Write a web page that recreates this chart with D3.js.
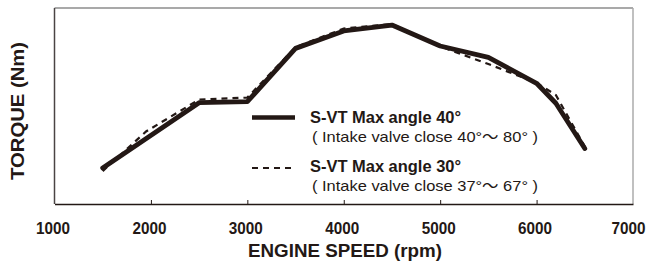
<!DOCTYPE html>
<html>
<head>
<meta charset="utf-8">
<script src="https://cdn.jsdelivr.net/npm/d3@7"></script>
<style>
  html, body { margin: 0; padding: 0; background: #fff; }
  svg { display: block; }
  text { font-family: "Liberation Sans", Arial, "Noto Sans CJK JP", sans-serif; fill: #231815; }
</style>
</head>
<body>
<svg id="chart" width="650" height="270"></svg>
<script>
// ---- data ----
const rpm40 = [1500, 2500, 3000, 3500, 4000, 4500, 5000, 5500, 6000, 6200, 6500];
const torque40 = [18.4, 51.7, 52.2, 79.4, 88.3, 91.3, 80.6, 74.8, 61.6, 51.4, 28.3];
const rpm30 = [1500, 1950, 2500, 3000, 3500, 4000, 4500, 5000, 5500, 6000, 6200, 6500];
const torque30 = [16.8, 37.0, 53.3, 54.3, 80.0, 89.5, 91.8, 80.4, 71.4, 61.8, 55.6, 29.3];
const xTicks = [1000, 2000, 3000, 4000, 5000, 6000, 7000];
const xLabel = "ENGINE SPEED (rpm)";
const yLabel = "TORQUE (Nm)";
const legendTitles = ["S-VT Max angle 40°", "S-VT Max angle 30°"];
const legendNotes = ["( Intake valve close 40°～ 80° )", "( Intake valve close 37°～ 67° )"];

const ink = "#231815";
const svg = d3.select("#chart");
const x = d3.scaleLinear().domain([1000, 7000]).range([54.5, 633]);
const y = d3.scaleLinear().domain([0, 100]).range([204, 8]);

// frame
svg.append("line").attr("x1", 54.5).attr("x2", 633).attr("y1", 8).attr("y2", 8)
  .attr("stroke", "#8c8c8c").attr("stroke-width", 1.5);
svg.append("line").attr("x1", 633).attr("x2", 633).attr("y1", 8).attr("y2", 204)
  .attr("stroke", "#ababab").attr("stroke-width", 1.5);
svg.append("line").attr("x1", 54.5).attr("x2", 54.5).attr("y1", 8).attr("y2", 204)
  .attr("stroke", "#4a4444").attr("stroke-width", 1.5);

// x axis
const xAxis = d3.axisBottom(x).tickValues(xTicks).tickSizeInner(-4).tickSizeOuter(0).tickFormat(d3.format("d"));
const gx = svg.append("g").attr("transform", "translate(0,204)").call(xAxis);
gx.select(".domain").attr("stroke", ink).attr("stroke-width", 1.5);
gx.selectAll(".tick line").attr("stroke", ink).attr("stroke-width", 1)
  .filter(d => d === 1000 || d === 7000).remove();
gx.selectAll(".tick text").attr("y", 30).attr("dy", 0)
  .attr("font-size", 17).attr("font-weight", "bold").attr("fill", ink)
  .style("font-family", '"Liberation Sans", Arial, sans-serif')
  .attr("textLength", 34).attr("lengthAdjust", "spacingAndGlyphs")
  .attr("dx", d => d === 7000 ? -5 : -2);

// axis titles
svg.append("text").attr("x", 345).attr("y", 257).attr("text-anchor", "middle")
  .attr("font-size", 18).attr("font-weight", "bold")
  .attr("textLength", 194).attr("lengthAdjust", "spacingAndGlyphs").text(xLabel);
svg.append("text").attr("transform", "translate(24,111) rotate(-90)").attr("text-anchor", "middle")
  .attr("font-size", 18).attr("font-weight", "bold")
  .attr("textLength", 138).attr("lengthAdjust", "spacingAndGlyphs").text(yLabel);

// lines
const line = d3.line().x(d => x(d[0])).y(d => y(d[1]));
const pts30 = rpm30.map((r, i) => [r, torque30[i]]);
const pts40 = rpm40.map((r, i) => [r, torque40[i]]);
svg.append("path").attr("d", line(pts30)).attr("fill", "none")
  .attr("stroke", ink).attr("stroke-width", 2.2).attr("stroke-dasharray", "6,5");
svg.append("path").attr("d", line(pts40)).attr("fill", "none")
  .attr("stroke", ink).attr("stroke-width", 4.8).attr("stroke-linejoin", "round").attr("stroke-linecap", "round");

// legend
const lg = svg.append("g");
lg.append("line").attr("x1", 252).attr("x2", 295).attr("y1", 117.5).attr("y2", 117.5)
  .attr("stroke", ink).attr("stroke-width", 4.5);
lg.append("line").attr("x1", 252).attr("x2", 294).attr("y1", 168).attr("y2", 168)
  .attr("stroke", ink).attr("stroke-width", 2).attr("stroke-dasharray", "6,5");
[0, 1].forEach(i => {
  const yy = i === 0 ? 122.5 : 171.5;
  lg.append("text").attr("x", 310).attr("y", yy)
    .attr("font-size", 16).attr("font-weight", "bold")
    .attr("textLength", 151).attr("lengthAdjust", "spacingAndGlyphs").text(legendTitles[i]);
  lg.append("text").attr("x", 312).attr("y", yy + 19.5)
    .attr("font-size", 14.5)
    .attr("textLength", 226).attr("lengthAdjust", "spacingAndGlyphs").text(legendNotes[i]);
});
</script>
</body>
</html>
